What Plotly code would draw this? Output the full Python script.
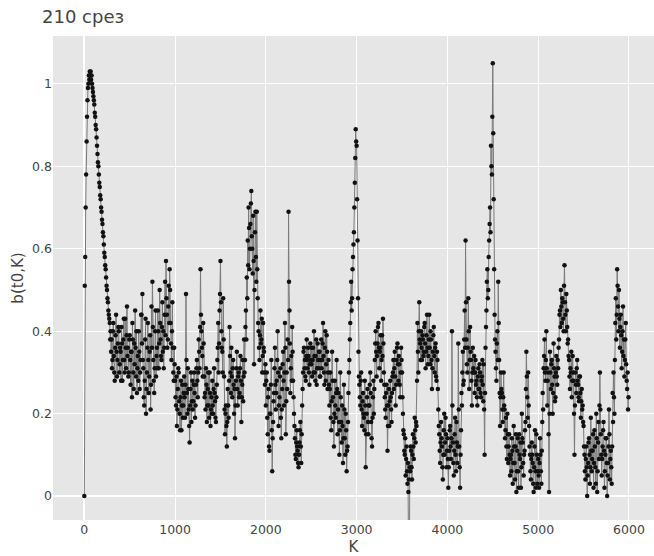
import plotly.graph_objects as go

STEP = 5
b_0000 = [0.00, 0.51, 0.58, 0.70, 0.78, 0.86, 0.92, 0.96, 0.99, 1.00, 1.02, 1.01, 1.03, 1.02, 1.03, 1.01, 1.02, 1.00, 0.99, 0.98]
b_0100 = [0.97, 0.96, 0.95, 0.93, 0.92, 0.90, 0.89, 0.87, 0.85, 0.83, 0.81, 0.80, 0.78, 0.76, 0.75, 0.73, 0.72, 0.70, 0.69, 0.67]
b_0200 = [0.66, 0.64, 0.63, 0.61, 0.59, 0.58, 0.56, 0.55, 0.53, 0.51, 0.50, 0.48, 0.47, 0.45, 0.44, 0.43, 0.42, 0.38, 0.40, 0.35]
b_0300 = [0.38, 0.31, 0.33, 0.40, 0.42, 0.34, 0.30, 0.28, 0.36, 0.39, 0.44, 0.35, 0.29, 0.33, 0.37, 0.41, 0.40, 0.30, 0.32, 0.36]
b_0400 = [0.35, 0.28, 0.41, 0.37, 0.28, 0.33, 0.38, 0.43, 0.33, 0.30, 0.43, 0.36, 0.31, 0.39, 0.46, 0.34, 0.36, 0.29, 0.30, 0.38]
b_0500 = [0.39, 0.33, 0.27, 0.35, 0.35, 0.24, 0.42, 0.38, 0.30, 0.26, 0.37, 0.32, 0.45, 0.36, 0.29, 0.40, 0.25, 0.31, 0.34, 0.28]
b_0600 = [0.40, 0.35, 0.26, 0.30, 0.33, 0.44, 0.44, 0.37, 0.49, 0.33, 0.31, 0.24, 0.22, 0.28, 0.38, 0.43, 0.20, 0.26, 0.30, 0.36]
b_0700 = [0.42, 0.33, 0.25, 0.29, 0.35, 0.39, 0.21, 0.27, 0.46, 0.36, 0.52, 0.41, 0.33, 0.28, 0.25, 0.31, 0.40, 0.45, 0.29, 0.34]
b_0800 = [0.36, 0.31, 0.45, 0.40, 0.31, 0.37, 0.50, 0.42, 0.38, 0.34, 0.33, 0.41, 0.47, 0.35, 0.40, 0.31, 0.36, 0.44, 0.52, 0.39]
b_0900 = [0.57, 0.48, 0.44, 0.36, 0.38, 0.46, 0.51, 0.42, 0.55, 0.50, 0.42, 0.37, 0.33, 0.40, 0.47, 0.36, 0.30, 0.28, 0.36, 0.32]
b_1000 = [0.28, 0.24, 0.22, 0.29, 0.17, 0.21, 0.26, 0.31, 0.30, 0.23, 0.20, 0.16, 0.24, 0.28, 0.16, 0.22, 0.27, 0.19, 0.22, 0.25]
b_1100 = [0.29, 0.24, 0.19, 0.27, 0.49, 0.33, 0.25, 0.20, 0.31, 0.26, 0.21, 0.17, 0.13, 0.22, 0.26, 0.30, 0.18, 0.23, 0.28, 0.21]
b_1200 = [0.23, 0.27, 0.30, 0.25, 0.19, 0.22, 0.27, 0.31, 0.33, 0.28, 0.24, 0.30, 0.38, 0.35, 0.31, 0.41, 0.55, 0.44, 0.40, 0.36]
b_1300 = [0.34, 0.29, 0.42, 0.37, 0.29, 0.24, 0.25, 0.21, 0.31, 0.27, 0.18, 0.22, 0.26, 0.30, 0.22, 0.19, 0.30, 0.25, 0.17, 0.21]
b_1400 = [0.24, 0.20, 0.28, 0.22, 0.20, 0.26, 0.31, 0.25, 0.23, 0.19, 0.18, 0.24, 0.27, 0.33, 0.36, 0.42, 0.30, 0.37, 0.45, 0.49]
b_1500 = [0.57, 0.47, 0.40, 0.36, 0.35, 0.30, 0.48, 0.38, 0.29, 0.21, 0.15, 0.20, 0.22, 0.17, 0.12, 0.18, 0.26, 0.22, 0.19, 0.28]
b_1600 = [0.41, 0.34, 0.30, 0.25, 0.36, 0.29, 0.24, 0.31, 0.33, 0.27, 0.20, 0.26, 0.14, 0.22, 0.28, 0.31, 0.35, 0.26, 0.22, 0.29]
b_1700 = [0.30, 0.24, 0.25, 0.31, 0.34, 0.28, 0.18, 0.24, 0.27, 0.33, 0.23, 0.29, 0.38, 0.30, 0.33, 0.41, 0.45, 0.38, 0.53, 0.48]
b_1800 = [0.62, 0.56, 0.70, 0.65, 0.55, 0.60, 0.66, 0.71, 0.74, 0.63, 0.60, 0.54, 0.68, 0.57, 0.32, 0.50, 0.64, 0.69, 0.58, 0.52]
b_1900 = [0.69, 0.55, 0.48, 0.42, 0.40, 0.36, 0.33, 0.39, 0.45, 0.37, 0.38, 0.43, 0.30, 0.34, 0.42, 0.36, 0.35, 0.30, 0.27, 0.32]
b_2000 = [0.22, 0.28, 0.30, 0.19, 0.15, 0.24, 0.26, 0.12, 0.11, 0.20, 0.20, 0.27, 0.33, 0.16, 0.06, 0.14, 0.18, 0.23, 0.25, 0.31]
b_2100 = [0.36, 0.27, 0.21, 0.25, 0.28, 0.33, 0.40, 0.30, 0.17, 0.22, 0.24, 0.29, 0.31, 0.19, 0.14, 0.21, 0.26, 0.32, 0.35, 0.28]
b_2200 = [0.22, 0.30, 0.42, 0.36, 0.15, 0.23, 0.30, 0.26, 0.38, 0.33, 0.69, 0.52, 0.45, 0.37, 0.25, 0.31, 0.34, 0.28, 0.41, 0.35]
b_2300 = [0.28, 0.24, 0.20, 0.17, 0.14, 0.10, 0.09, 0.13, 0.16, 0.12, 0.11, 0.08, 0.07, 0.10, 0.13, 0.16, 0.18, 0.12, 0.08, 0.15]
b_2400 = [0.22, 0.26, 0.30, 0.35, 0.36, 0.31, 0.33, 0.29, 0.28, 0.34, 0.38, 0.33, 0.31, 0.36, 0.34, 0.30, 0.27, 0.32, 0.37, 0.33]
b_2500 = [0.32, 0.36, 0.29, 0.33, 0.36, 0.30, 0.40, 0.34, 0.30, 0.28, 0.34, 0.38, 0.27, 0.31, 0.37, 0.33, 0.31, 0.35, 0.35, 0.29]
b_2600 = [0.29, 0.33, 0.38, 0.31, 0.33, 0.37, 0.42, 0.34, 0.30, 0.27, 0.36, 0.40, 0.28, 0.32, 0.39, 0.35, 0.26, 0.30, 0.33, 0.27]
b_2700 = [0.22, 0.26, 0.30, 0.19, 0.16, 0.23, 0.35, 0.28, 0.24, 0.18, 0.12, 0.20, 0.28, 0.22, 0.19, 0.25, 0.33, 0.26, 0.15, 0.21]
b_2800 = [0.25, 0.18, 0.10, 0.16, 0.30, 0.24, 0.18, 0.13, 0.22, 0.17, 0.08, 0.14, 0.27, 0.21, 0.14, 0.10, 0.20, 0.16, 0.06, 0.11]
b_2900 = [0.12, 0.18, 0.25, 0.30, 0.33, 0.38, 0.42, 0.47, 0.52, 0.45, 0.48, 0.55, 0.58, 0.61, 0.64, 0.70, 0.76, 0.82, 0.89, 0.86]
b_3000 = [0.85, 0.72, 0.62, 0.48, 0.35, 0.29, 0.27, 0.24, 0.22, 0.28, 0.30, 0.21, 0.17, 0.23, 0.25, 0.20, 0.19, 0.16, 0.28, 0.22]
b_3100 = [0.07, 0.15, 0.20, 0.24, 0.26, 0.18, 0.15, 0.22, 0.22, 0.27, 0.30, 0.25, 0.18, 0.14, 0.12, 0.19, 0.24, 0.28, 0.20, 0.26]
b_3200 = [0.33, 0.37, 0.40, 0.35, 0.29, 0.34, 0.37, 0.41, 0.42, 0.36, 0.31, 0.35, 0.36, 0.39, 0.28, 0.33, 0.39, 0.34, 0.43, 0.37]
b_3300 = [0.30, 0.27, 0.24, 0.21, 0.19, 0.25, 0.27, 0.22, 0.11, 0.17, 0.22, 0.26, 0.17, 0.23, 0.28, 0.24, 0.21, 0.18, 0.25, 0.29]
b_3400 = [0.30, 0.33, 0.26, 0.31, 0.35, 0.29, 0.22, 0.27, 0.33, 0.36, 0.37, 0.32, 0.28, 0.34, 0.32, 0.27, 0.24, 0.30, 0.36, 0.33]
b_3500 = [0.30, 0.24, 0.20, 0.16, 0.15, 0.11, 0.10, 0.14, 0.05, 0.09, 0.12, 0.06, 0.03, 0.08, 0.01, 0.04, -0.40, 0.07, 0.06, 0.12]
b_3600 = [0.11, 0.07, 0.04, 0.10, 0.15, 0.12, 0.09, 0.14, 0.19, 0.16, 0.13, 0.18, 0.17, 0.28, 0.42, 0.35, 0.30, 0.40, 0.47, 0.38]
b_3700 = [0.37, 0.33, 0.40, 0.36, 0.33, 0.39, 0.38, 0.34, 0.35, 0.41, 0.42, 0.37, 0.31, 0.35, 0.39, 0.44, 0.36, 0.32, 0.34, 0.38]
b_3800 = [0.44, 0.36, 0.32, 0.40, 0.38, 0.33, 0.26, 0.31, 0.35, 0.39, 0.41, 0.34, 0.30, 0.36, 0.37, 0.29, 0.28, 0.35, 0.33, 0.26]
b_3900 = [0.21, 0.17, 0.15, 0.11, 0.08, 0.13, 0.18, 0.14, 0.12, 0.07, 0.04, 0.10, 0.16, 0.20, 0.10, 0.13, 0.19, 0.15, 0.07, 0.11]
b_4000 = [0.14, 0.09, 0.02, 0.07, 0.11, 0.16, 0.17, 0.12, 0.09, 0.14, 0.40, 0.22, 0.13, 0.08, 0.05, 0.11, 0.15, 0.19, 0.10, 0.06]
b_4100 = [0.18, 0.13, 0.08, 0.12, 0.37, 0.21, 0.12, 0.07, 0.02, 0.10, 0.16, 0.25, 0.22, 0.30, 0.35, 0.27, 0.28, 0.38, 0.45, 0.36]
b_4200 = [0.62, 0.47, 0.38, 0.32, 0.30, 0.36, 0.48, 0.40, 0.26, 0.33, 0.41, 0.35, 0.33, 0.28, 0.22, 0.30, 0.36, 0.31, 0.30, 0.34]
b_4300 = [0.25, 0.30, 0.33, 0.27, 0.28, 0.24, 0.22, 0.29, 0.31, 0.26, 0.26, 0.32, 0.30, 0.25, 0.24, 0.28, 0.29, 0.33, 0.27, 0.23]
b_4400 = [0.32, 0.21, 0.10, 0.25, 0.36, 0.41, 0.45, 0.52, 0.55, 0.48, 0.50, 0.58, 0.62, 0.66, 0.70, 0.64, 0.85, 0.80, 0.78, 0.92]
b_4500 = [1.05, 0.88, 0.72, 0.55, 0.44, 0.38, 0.35, 0.31, 0.28, 0.37, 0.40, 0.33, 0.52, 0.42, 0.33, 0.25, 0.17, 0.24, 0.30, 0.26]
b_4600 = [0.25, 0.21, 0.18, 0.24, 0.30, 0.22, 0.21, 0.14, 0.16, 0.19, 0.12, 0.09, 0.20, 0.15, 0.08, 0.12, 0.15, 0.10, 0.05, 0.09]
b_4700 = [0.10, 0.06, 0.14, 0.11, 0.03, 0.08, 0.17, 0.12, 0.08, 0.04, 0.12, 0.15, 0.01, 0.06, 0.11, 0.14, 0.06, 0.02, 0.15, 0.10]
b_4800 = [0.09, 0.13, 0.02, 0.07, 0.20, 0.14, 0.13, 0.08, 0.05, 0.10, 0.11, 0.16, 0.18, 0.26, 0.35, 0.29, 0.24, 0.19, 0.30, 0.22]
b_4900 = [0.17, 0.12, 0.10, 0.06, 0.04, 0.09, 0.13, 0.10, 0.08, 0.03, 0.01, 0.07, 0.12, 0.16, 0.06, 0.02, 0.15, 0.10, 0.03, 0.06]
b_5000 = [0.09, 0.05, 0.02, 0.08, 0.14, 0.10, 0.06, 0.03, 0.11, 0.18, 0.25, 0.21, 0.31, 0.34, 0.38, 0.30, 0.28, 0.33, 0.40, 0.31]
b_5100 = [0.22, 0.28, 0.30, 0.15, 0.01, 0.20, 0.35, 0.30, 0.26, 0.32, 0.33, 0.27, 0.20, 0.25, 0.37, 0.31, 0.29, 0.23, 0.24, 0.30]
b_5200 = [0.34, 0.29, 0.27, 0.33, 0.31, 0.36, 0.38, 0.44, 0.45, 0.41, 0.50, 0.46, 0.42, 0.48, 0.47, 0.43, 0.40, 0.51, 0.56, 0.47]
b_5300 = [0.44, 0.40, 0.49, 0.45, 0.41, 0.37, 0.38, 0.34, 0.33, 0.29, 0.26, 0.31, 0.30, 0.35, 0.24, 0.28, 0.34, 0.30, 0.28, 0.20]
b_5400 = [0.10, 0.22, 0.30, 0.27, 0.25, 0.31, 0.33, 0.28, 0.27, 0.24, 0.23, 0.29, 0.29, 0.25, 0.19, 0.23, 0.26, 0.21, 0.22, 0.18]
b_5500 = [0.17, 0.12, 0.10, 0.06, 0.04, 0.09, 0.12, 0.07, 0.00, 0.05, 0.08, 0.13, 0.14, 0.10, 0.03, 0.07, 0.19, 0.11, 0.06, 0.09]
b_5600 = [0.11, 0.15, 0.02, 0.08, 0.16, 0.12, 0.07, 0.03, 0.20, 0.14, 0.01, 0.06, 0.13, 0.18, 0.09, 0.22, 0.30, 0.21, 0.15, 0.10]
b_5700 = [0.05, 0.09, 0.12, 0.16, 0.18, 0.11, 0.02, 0.06, 0.10, 0.14, 0.14, 0.08, 0.00, 0.05, 0.08, 0.12, 0.21, 0.15, 0.04, 0.09]
b_5800 = [0.11, 0.07, 0.03, 0.12, 0.25, 0.18, 0.30, 0.24, 0.20, 0.33, 0.42, 0.48, 0.38, 0.44, 0.55, 0.51, 0.46, 0.40, 0.50, 0.43]
b_5900 = [0.36, 0.41, 0.44, 0.39, 0.31, 0.35, 0.40, 0.46, 0.34, 0.38, 0.29, 0.33, 0.38, 0.42, 0.32, 0.28, 0.26, 0.30, 0.21, 0.24]

blocks = [b_0000, b_0100, b_0200, b_0300, b_0400, b_0500, b_0600, b_0700, b_0800, b_0900,
          b_1000, b_1100, b_1200, b_1300, b_1400, b_1500, b_1600, b_1700, b_1800, b_1900,
          b_2000, b_2100, b_2200, b_2300, b_2400, b_2500, b_2600, b_2700, b_2800, b_2900,
          b_3000, b_3100, b_3200, b_3300, b_3400, b_3500, b_3600, b_3700, b_3800, b_3900,
          b_4000, b_4100, b_4200, b_4300, b_4400, b_4500, b_4600, b_4700, b_4800, b_4900,
          b_5000, b_5100, b_5200, b_5300, b_5400, b_5500, b_5600, b_5700, b_5800, b_5900]
b_values = [v for blk in blocks for v in blk]
K_values = list(range(0, STEP * len(b_values), STEP))

title_text = "210 срез"
x_title = "K"
y_title = "b(t0,K)"
x_ticks = [0, 1000, 2000, 3000, 4000, 5000, 6000]
y_ticks = [0, 0.2, 0.4, 0.6, 0.8, 1]

FONT = "DejaVu Sans"
fig = go.Figure(go.Scatter(
    x=K_values, y=b_values, mode="lines+markers",
    line=dict(color="#7a7a7a", width=1),
    marker=dict(color="#111111", size=4.5),
))
fig.update_layout(
    width=654, height=556,
    margin=dict(l=53, r=0, t=36, b=36),
    paper_bgcolor="white", plot_bgcolor="#e6e6e6",
    font=dict(family=FONT, size=12.5, color="#444444"),
    title=dict(text=title_text, x=42/654, xanchor="left", xref="container",
               y=1 - 17/556, yanchor="middle", yref="container",
               font=dict(family=FONT, size=18, color="#444444")),
    showlegend=False,
    xaxis=dict(range=[-345, 6276], tickvals=x_ticks, gridcolor="white", gridwidth=1,
               zeroline=True, zerolinecolor="white", zerolinewidth=1.5,
               title=dict(text=x_title, font=dict(size=15), standoff=6), showline=False),
    yaxis=dict(range=[-0.058, 1.116], tickvals=y_ticks, gridcolor="white", gridwidth=1,
               zeroline=True, zerolinecolor="white", zerolinewidth=1.5,
               title=dict(text=y_title, font=dict(size=15), standoff=4), showline=False),
)
fig.write_html("out.html")
